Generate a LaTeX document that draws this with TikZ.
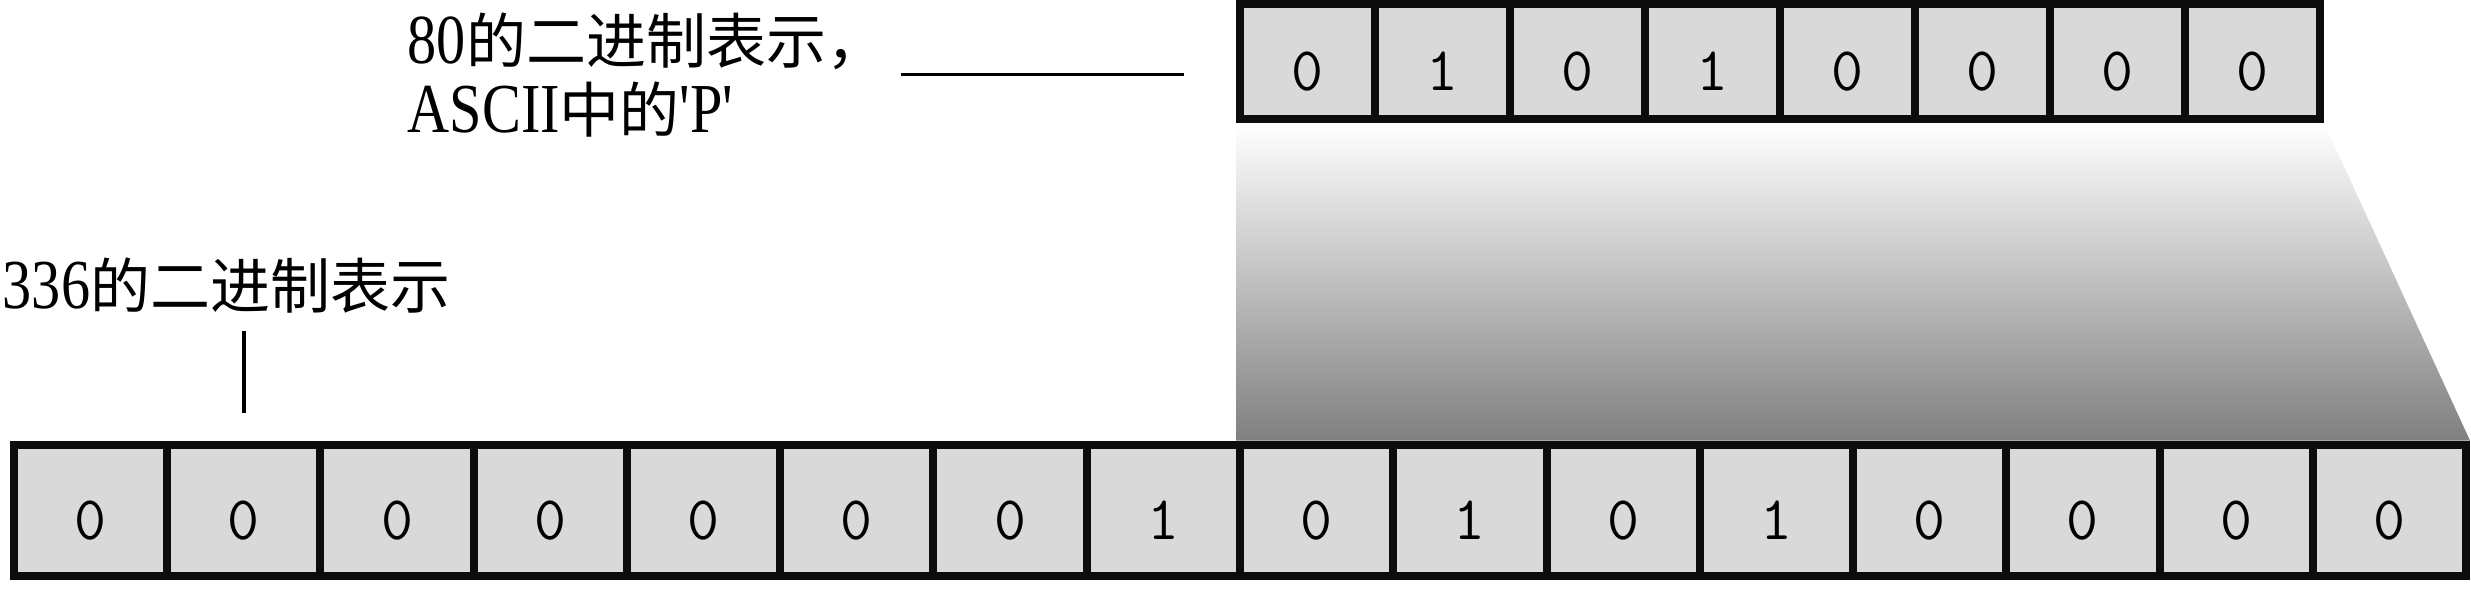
\documentclass[tikz,border=0pt]{standalone}
\usepackage{tikz}
\usepackage{xcolor}
\usepackage{fontspec}
\usetikzlibrary{backgrounds}
\newfontfamily\cjkfont{Noto Sans CJK SC}
\newfontfamily\labelfont{Liberation Serif}[Scale=1.17, FakeStretch=0.83]
\definecolor{cellgray}{HTML}{D9D9D9}
\definecolor{edgeblack}{HTML}{0C0C0C}
\tikzstyle{bit} = [rectangle, draw=edgeblack, fill=cellgray, line width=2pt, minimum width=38.31pt, minimum height=32.7pt, inner sep=0pt, text height=14.5pt, text depth=0pt, font=\fontsize{15.5pt}{18pt}\ttfamily]
\tikzstyle{hbit} = [bit, minimum width=33.75pt, minimum height=28.75pt]
\tikzstyle{lbl} = [inner sep=0pt, align=left, anchor=base west, font=\fontsize{15pt}{17.25pt}\labelfont]
\tikzstyle{leader} = [line width=0.85pt]
\tikzstyle{fade} = [top color=white, bottom color=black!50]

\begin{document}
\begin{tikzpicture}[x=0.25pt, y=-0.25pt]
    \useasboundingbox (0,0) rectangle (2471,590);

    \node (t1) [hbit] at (1307.5,61.5) {0};
    \node (t2) [hbit] at (1442.5,61.5) {1};
    \node (t3) [hbit] at (1577.5,61.5) {0};
    \node (t4) [hbit] at (1712.5,61.5) {1};
    \node (t5) [hbit] at (1847.5,61.5) {0};
    \node (t6) [hbit] at (1982.5,61.5) {0};
    \node (t7) [hbit] at (2117.5,61.5) {0};
    \node (t8) [hbit] at (2252.5,61.5) {0};

    \node (b1) [bit] at (90.6,510.1) {0};
    \node (b2) [bit] at (243.9,510.1) {0};
    \node (b3) [bit] at (397.1,510.1) {0};
    \node (b4) [bit] at (550.4,510.1) {0};
    \node (b5) [bit] at (703.6,510.1) {0};
    \node (b6) [bit] at (856.9,510.1) {0};
    \node (b7) [bit] at (1010.1,510.1) {0};
    \node (b8) [bit] at (1163.4,510.1) {1};
    \node (b9) [bit] at (1316.6,510.1) {0};
    \node (b10) [bit] at (1469.9,510.1) {1};
    \node (b11) [bit] at (1623.1,510.1) {0};
    \node (b12) [bit] at (1776.4,510.1) {1};
    \node (b13) [bit] at (1929.6,510.1) {0};
    \node (b14) [bit] at (2082.9,510.1) {0};
    \node (b15) [bit] at (2236.1,510.1) {0};
    \node (b16) [bit] at (2389.4,510.1) {0};

    \node (lbl80) [lbl] at (407,132) {80{\cjkfont 的二进制表示，}\\ASCII{\cjkfont 中的}'P'};
    \node (lbl336) [lbl] at (2,308) {336{\cjkfont 的二进制表示}};

    \begin{scope}[on background layer]
        \shade [fade] (t1.south west) -- (t8.south east) -- (b16.north east) -- (b9.north west) -- cycle;
    \end{scope}

    \draw [leader] ([xshift=3.5pt]lbl80.east) -- ([xshift=-13pt]lbl80.east -| t1.west);
    \draw [leader] ([yshift=-4.25pt]lbl336.south -| b2.north) -- ([yshift=6.9pt]b2.north);
\end{tikzpicture}
\end{document}
